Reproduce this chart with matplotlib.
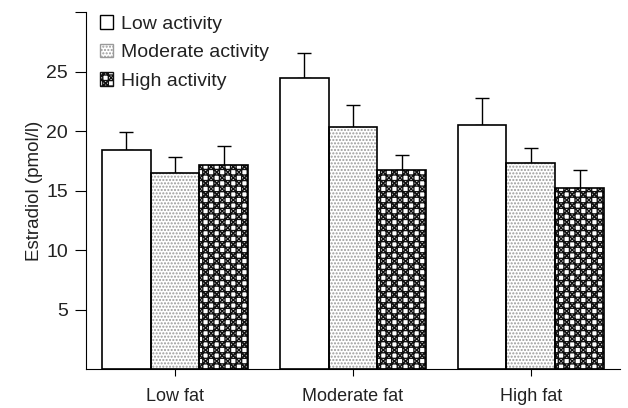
import numpy as np
import matplotlib.pyplot as plt
from matplotlib.patches import Patch

plt.rcParams['font.family'] = ['Liberation Sans', 'DejaVu Sans']
plt.rcParams['hatch.linewidth'] = 1.0

groups = ["Low fat", "Moderate fat", "High fat"]
series = ["Low activity", "Moderate activity", "High activity"]
low_act = [18.4, 24.5, 20.5]
mod_act = [16.5, 20.35, 17.35]
high_act = [17.2, 16.75, 15.25]
low_err = [1.5, 2.1, 2.3]
mod_err = [1.3, 1.85, 1.25]
high_err = [1.6, 1.25, 1.5]

values = [low_act, mod_act, high_act]
errors = [low_err, mod_err, high_err]
hatches = [None, '.....', '+++xxx']
hatch_cols = ['black', '#9a9a9a', '#111111']
txt = '#222222'

fig = plt.figure(figsize=(6.28, 4.08), dpi=100)
ax = fig.add_axes([0.137, 0.0956, 0.85, 0.874])

x = np.arange(len(groups))
w = 0.274
for i in range(3):
    pos = x + (i - 1) * w
    ax.errorbar(pos, values[i], yerr=[np.zeros(3), errors[i]], fmt='none',
                ecolor='black', elinewidth=1.0, capsize=5, capthick=1.0, zorder=1)
    ax.bar(pos, values[i], w, color='white', edgecolor=hatch_cols[i],
           hatch=hatches[i], linewidth=0, zorder=2)
    ax.bar(pos, values[i], w, fill=False, edgecolor='black', linewidth=1.2, zorder=3)

ax.set_xlim(-0.5, 2.5)
ax.set_ylim(0, 30)
ax.set_yticks([5, 10, 15, 20, 25, 30])
ax.set_yticklabels(['5', '10', '15', '20', '25', ''])
ax.set_xticks(x)
ax.set_xticklabels(groups, fontsize=13, color=txt)
ax.tick_params(axis='y', labelsize=14, labelcolor=txt, length=8, width=0.8, pad=5)
ax.tick_params(axis='x', length=5, width=0.8, pad=9)
ax.set_ylabel("Estradiol (pmol/l)", fontsize=13.5, color=txt, labelpad=2)
for s in ['top', 'right']:
    ax.spines[s].set_visible(False)

handles = []
for i in range(3):
    handles.append(Patch(facecolor='white', edgecolor=hatch_cols[i] if i else 'black',
                         hatch=hatches[i], linewidth=1))
leg = ax.legend(handles, series, loc='upper left', bbox_to_anchor=(0.0, 1.03),
                frameon=False, fontsize=14, handlelength=0.7, handleheight=0.7,
                handletextpad=0.4, labelspacing=0.55, borderaxespad=0.3)
for t in leg.get_texts():
    t.set_color(txt)

fig.savefig("out.png", dpi=100)
